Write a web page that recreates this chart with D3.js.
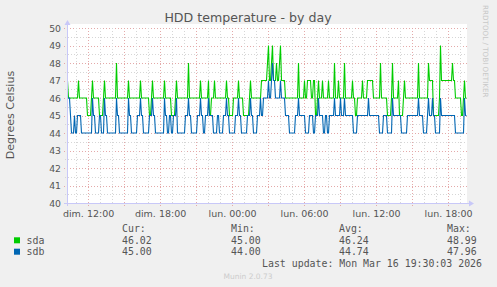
<!DOCTYPE html>
<html><head><meta charset="utf-8">
<script src="https://cdn.jsdelivr.net/npm/d3@7"></script>
<style>
html,body{margin:0;padding:0;background:#f0f0f0;}
svg{display:block;}
</style></head>
<body>
<script>
// ---- data (5-minute samples, 400 per series) ----
const seriesNames = ["sda", "sdb"];
const seriesColors = ["#00cc00", "#0066b3"];
const sdaValues = [
47,46,46,46,46,46,46,46,46,46,46,47,46,46,46,46,46,46,46,46,
45,45,45,45,46,47,46,46,46,46,46,46,45,45,45,45,46,47,46,46,
46,46,46,46,46,46,46,46,46,48,46,46,46,46,46,46,46,46,46,46,
46,47,46,46,46,46,46,46,46,46,46,46,46,47,46,46,46,46,46,46,
46,46,45,45,46,47,46,46,46,46,46,46,46,46,46,46,46,47,46,46,
46,46,46,46,45,45,45,45,46,47,46,46,46,46,46,46,46,46,46,46,
46,48,46,46,46,46,46,46,46,46,46,46,46,47,46,46,46,46,46,46,
46,47,45,45,46,46,46,47,46,46,46,46,46,46,46,46,46,46,46,47,
46,46,45,45,45,45,46,46,46,46,46,47,46,46,46,46,45,45,45,45,
45,45,46,47,46,46,46,46,46,46,46,46,46,46,47,47,47,47,47,47,
48,49,47,47,48,49,47,47,47,48,47,47,48,49,47,47,47,47,46,46,
46,46,46,46,46,46,46,46,46,46,46,48,46,46,46,46,46,47,46,46,
47,47,47,47,46,46,47,47,45,45,46,47,46,46,46,47,46,46,46,46,
46,47,46,46,46,46,46,48,46,46,46,47,46,46,46,46,46,48,46,46,
46,46,46,46,46,47,46,46,45,45,46,46,46,46,46,47,46,46,46,46,
47,47,47,47,47,47,46,46,46,46,46,46,46,48,46,46,46,46,46,46,
45,45,45,45,46,48,46,46,46,46,46,47,45,45,45,45,46,47,46,46,
46,46,46,46,46,46,46,46,46,46,46,48,46,46,46,46,46,46,46,46,
46,48,47,47,47,47,45,45,45,45,45,45,46,49,47,47,47,47,47,47,
47,47,47,47,47,48,47,47,46,46,46,46,46,46,45,45,46,47,46,46
];
const sdbValues = [
46,46,46,45,44,44,44,45,44,44,45,45,45,45,44,44,44,44,44,44,
44,44,44,44,44,46,45,45,44,44,44,44,45,45,44,44,44,46,45,45,
44,44,44,44,44,44,44,44,44,46,45,45,44,44,44,44,44,44,44,44,
44,46,45,45,44,44,44,44,44,44,45,45,45,46,45,45,44,44,44,44,
44,44,45,45,45,46,45,45,44,44,44,44,44,44,44,44,44,46,45,45,
44,44,45,45,44,44,45,45,45,46,44,44,44,44,44,44,44,44,45,45,
45,46,45,45,44,44,44,44,44,44,45,45,45,46,45,45,44,44,45,45,
45,46,45,45,45,45,44,44,44,44,45,45,44,44,44,44,45,45,45,46,
45,45,44,44,44,44,44,44,45,45,45,46,45,45,44,44,44,44,44,44,
45,45,45,46,45,45,44,44,44,44,45,45,45,46,45,45,46,46,46,46,
46,47,46,46,47,48,47,47,46,46,46,46,46,47,46,46,46,46,45,45,
45,45,44,44,44,44,44,44,45,45,45,46,45,45,45,45,45,45,44,44,
44,44,45,45,45,45,44,44,45,45,45,46,45,45,45,45,44,44,45,45,
44,44,45,45,45,45,45,46,45,45,45,45,45,46,45,45,45,46,45,45,
45,45,45,45,45,45,44,44,44,44,45,45,45,45,45,45,45,45,45,45,
45,46,45,45,45,45,45,45,45,45,45,45,44,44,44,44,45,45,45,45,
44,44,44,44,44,46,45,45,45,45,45,45,45,45,44,44,44,44,44,44,
45,45,45,45,45,45,45,45,45,45,45,46,45,45,45,45,44,44,44,44,
45,46,45,45,45,46,45,45,44,44,44,44,44,46,45,45,45,45,45,45,
45,45,45,45,45,45,45,45,44,44,44,44,44,44,44,44,44,46,45,45
];
const legendHeaders = ["Cur:", "Min:", "Avg:", "Max:"];
const legendStats = [
  ["46.02", "45.00", "46.24", "48.99"],
  ["45.00", "44.00", "44.74", "47.96"]
];
const yTicks = [40,41,42,43,44,45,46,47,48,49,50];
const frDays = ["dim.","lun.","mar.","mer.","jeu.","ven.","sam."];
const titleText = "HDD temperature - by day";
const yLabelText = "Degrees Celsius";
const lastUpdateText = "Last update: Mon Mar 16 19:30:03 2026";
const versionText = "Munin 2.0.73";
const sideText = "RRDTOOL / TOBI OETIKER";
const stepMinutes = 5;
const startTime = new Date(2026, 2, 15, 10, 17);
const endTime = new Date(startTime.getTime() + 120000 * 1000);

// ---- drawing ----
const W = 497, H = 287;
const plot = {left: 67, right: 467, top: 28, bottom: 203};
const svg = d3.select("body").append("svg").attr("width", W).attr("height", H);
svg.append("rect").attr("width", W).attr("height", H).attr("fill", "#f0f0f0");

const x = d3.scaleTime().domain([startTime, endTime]).range([plot.left, plot.right]);
const y = d3.scaleLinear().domain([40, 50]).range([plot.bottom, plot.top]);

// canvas
svg.append("rect").attr("x", plot.left).attr("y", plot.top - 4)
  .attr("width", plot.right - plot.left).attr("height", plot.bottom - plot.top + 4)
  .attr("fill", "#ffffff");

const g = svg.append("g").attr("shape-rendering", "crispEdges");
const minorCol = "#d6d6d6", majorCol = "#e4a9a9";

// horizontal grid
const yMinor = d3.range(40.5, 50, 1);
g.selectAll(".hmin").data(yMinor).join("line")
  .attr("x1", plot.left - 2).attr("x2", plot.right)
  .attr("y1", d => Math.round(y(d)) + 0.5).attr("y2", d => Math.round(y(d)) + 0.5)
  .attr("stroke", minorCol).attr("stroke-dasharray", "1,2");
g.selectAll(".hmaj").data(yTicks).join("line")
  .attr("x1", plot.left - 3).attr("x2", plot.right)
  .attr("y1", d => Math.round(y(d)) + 0.5).attr("y2", d => Math.round(y(d)) + 0.5)
  .attr("stroke", majorCol).attr("stroke-dasharray", "1,2");

// vertical grid
const hours = x.ticks(d3.timeHour.every(1));
const minorHours = hours.filter(d => d.getHours() % 3 !== 0);
const majorHours = hours.filter(d => d.getHours() % 3 === 0);
g.selectAll(".vmin").data(minorHours).join("line")
  .attr("x1", d => Math.round(x(d)) + 0.5).attr("x2", d => Math.round(x(d)) + 0.5)
  .attr("y1", plot.top).attr("y2", plot.bottom + 2)
  .attr("stroke", minorCol).attr("stroke-dasharray", "1,2");
g.selectAll(".vmaj").data(majorHours).join("line")
  .attr("x1", d => Math.round(x(d)) + 0.5).attr("x2", d => Math.round(x(d)) + 0.5)
  .attr("y1", plot.top).attr("y2", plot.bottom + 3)
  .attr("stroke", majorCol).attr("stroke-dasharray", "1,2");

// series lines
const series = [sdaValues, sdbValues];
const line = d3.line()
  .x((d, i) => x(new Date(startTime.getTime() + (i * stepMinutes + stepMinutes / 2) * 60000)))
  .y(d => y(d));
series.forEach((vals, k) => {
  svg.append("path").datum(vals).attr("d", line)
    .attr("fill", "none").attr("stroke", seriesColors[k]).attr("stroke-width", 1.1)
    .attr("stroke-linejoin", "miter");
});

// axes lines with arrows
const axisCol = "#c8c8f8";
svg.append("line").attr("x1", plot.left + 0.5).attr("x2", plot.left + 0.5)
  .attr("y1", plot.bottom + 3).attr("y2", plot.top - 5).attr("stroke", axisCol);
svg.append("path").attr("d", `M${plot.left - 2.5},${plot.top - 3} L${plot.left + 0.5},${plot.top - 8} L${plot.left + 3.5},${plot.top - 3} Z`).attr("fill", axisCol);
svg.append("line").attr("x1", plot.left - 3).attr("x2", plot.right + 3)
  .attr("y1", plot.bottom + 0.5).attr("y2", plot.bottom + 0.5).attr("stroke", axisCol);
svg.append("path").attr("d", `M${plot.right + 2},${plot.bottom - 2.5} L${plot.right + 7},${plot.bottom + 0.5} L${plot.right + 2},${plot.bottom + 3.5} Z`).attr("fill", axisCol);

const textCol = "#555555";
const sans = "DejaVu Sans";
const mono = "DejaVu Sans Mono";

// y tick labels
svg.append("g").selectAll("text").data(yTicks).join("text")
  .attr("x", plot.left - 6).attr("y", d => y(d) + 3.5)
  .attr("text-anchor", "end").attr("font-family", sans).attr("font-size", "9.3px")
  .attr("fill", textCol).text(d => d);

// x tick labels
const labelHours = hours.filter(d => d.getHours() % 6 === 0);
const fmtHM = d3.timeFormat("%H:%M");
svg.append("g").selectAll("text").data(labelHours).join("text")
  .attr("x", d => x(d) + 1).attr("y", plot.bottom + 13.5)
  .attr("text-anchor", "middle").attr("font-family", sans).attr("font-size", "9.5px")
  .attr("fill", textCol).text(d => frDays[d.getDay()] + " " + fmtHM(d));

// title
svg.append("text").attr("x", 248).attr("y", 22).attr("text-anchor", "middle")
  .attr("font-family", sans).attr("font-size", "12.6px").attr("fill", textCol).text(titleText);

// y label
svg.append("text").attr("transform", "translate(14,115) rotate(-90)")
  .attr("text-anchor", "middle").attr("font-family", sans).attr("font-size", "11px")
  .attr("fill", textCol).text(yLabelText);

// side text
svg.append("text").attr("transform", "translate(483,5) rotate(90)")
  .attr("font-family", sans).attr("font-size", "7.2px").attr("fill", "#c8c8c8").text(sideText);

// legend
const colX = [122, 231, 339, 447];
const legend = svg.append("g").attr("font-family", mono).attr("font-size", "9.9px").attr("fill", textCol)
  .attr("xml:space", "preserve");
legend.selectAll(".hdr").data(legendHeaders).join("text")
  .attr("x", (d, i) => colX[i]).attr("y", 231.5).text(d => d);
seriesNames.forEach((name, k) => {
  const yy = 243.8 + k * 11.4;
  legend.append("rect").attr("x", 14).attr("y", yy - 6.5).attr("width", 6).attr("height", 6)
    .attr("fill", seriesColors[k]);
  legend.append("text").attr("x", 26.5).attr("y", yy).text(name);
  legend.selectAll(".v" + k).data(legendStats[k]).join("text")
    .attr("x", (d, i) => colX[i]).attr("y", yy).text(d => d);
});
legend.append("text").attr("x", 482).attr("y", 267).attr("text-anchor", "end").text(lastUpdateText);

svg.append("text").attr("x", 248).attr("y", 279).attr("text-anchor", "middle")
  .attr("font-family", sans).attr("font-size", "7.5px").attr("fill", "#cccccc").text(versionText);
</script>
</body></html>
